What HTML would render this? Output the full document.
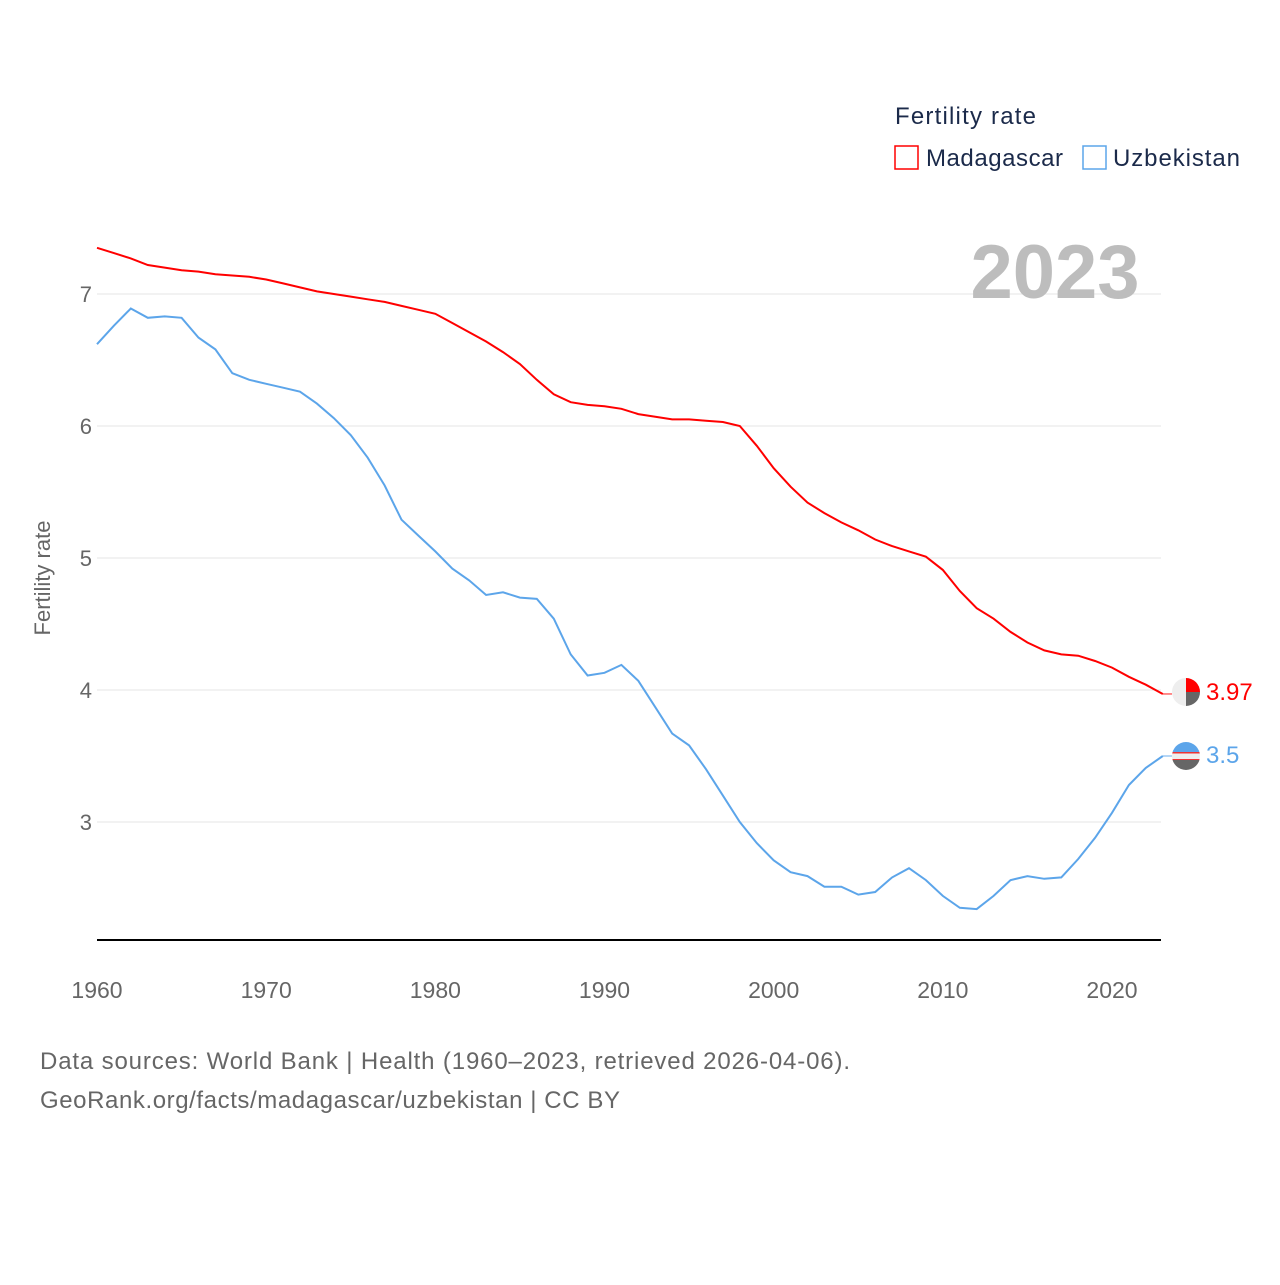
<!DOCTYPE html>
<html><head><meta charset="utf-8"><style>
body{margin:0;background:#fff;}
svg text{font-family:"Liberation Sans",sans-serif;}
</style></head><body>
<svg id="chart" width="1280" height="1280" xmlns="http://www.w3.org/2000/svg">
<rect width="1280" height="1280" fill="#fff"/>
<g id="grid"></g>
<text x="1055" y="298" font-size="76" font-weight="bold" fill="#bdbdbd" text-anchor="middle">2023</text>
<g id="series"></g>
<line x1="97" y1="940" x2="1161" y2="940" stroke="#000" stroke-width="2"/>
<g id="xticks"></g>
<text transform="translate(50,578) rotate(-90)" font-size="22" fill="#666" text-anchor="middle">Fertility rate</text>
<text x="895" y="124" font-size="24" fill="#1b2a4a" textLength="141">Fertility rate</text>
<g><rect x="895" y="146" width="23" height="23" fill="none" stroke="#f00" stroke-width="1.5"/><text x="926" y="166" font-size="24" fill="#1b2a4a" textLength="137">Madagascar</text></g>
<g><rect x="1083" y="146" width="23" height="23" fill="none" stroke="#5ca5ea" stroke-width="1.5"/><text x="1113" y="166" font-size="24" fill="#1b2a4a" textLength="127">Uzbekistan</text></g>
<g>
<clipPath id="c1"><circle cx="1186" cy="692" r="14"/></clipPath>
<g clip-path="url(#c1)"><rect x="1172" y="678" width="28" height="28" fill="#eee"/><rect x="1186" y="678" width="14" height="14" fill="#f00"/><rect x="1186" y="692" width="14" height="14" fill="#666"/></g></g>
<g>
<clipPath id="c2"><circle cx="1186" cy="756" r="14"/></clipPath>
<g clip-path="url(#c2)"><rect x="1172" y="742" width="28" height="11" fill="#5ca5ea"/><rect x="1172" y="753" width="28" height="7" fill="#eee"/><rect x="1172" y="752" width="28" height="1.5" fill="#e33"/><rect x="1172" y="759" width="28" height="1.5" fill="#e33"/><rect x="1172" y="760" width="28" height="12" fill="#666"/></g></g>
<text x="1206" y="700" font-size="24" fill="#f00">3.97</text>
<text x="1206" y="763" font-size="24" fill="#5ca5ea">3.5</text>
<text x="40" y="1069" font-size="24" fill="#666" textLength="810">Data sources: World Bank | Health (1960–2023, retrieved 2026-04-06).</text>
<text x="40" y="1108" font-size="24" fill="#666" textLength="580">GeoRank.org/facts/madagascar/uzbekistan | CC BY</text>
</svg>
<script>
const startYear = 1960;
const madagascar = [7.35,7.31,7.27,7.22,7.20,7.18,7.17,7.15,7.14,7.13,7.11,7.08,7.05,7.02,7.00,6.98,6.96,6.94,6.91,6.88,6.85,6.78,6.71,6.64,6.56,6.47,6.35,6.24,6.18,6.16,6.15,6.13,6.09,6.07,6.05,6.05,6.04,6.03,6.00,5.85,5.68,5.54,5.42,5.34,5.27,5.21,5.14,5.09,5.05,5.01,4.91,4.75,4.62,4.54,4.44,4.36,4.30,4.27,4.26,4.22,4.17,4.10,4.04,3.97];
const uzbekistan = [6.62,6.76,6.89,6.82,6.83,6.82,6.67,6.58,6.40,6.35,6.32,6.29,6.26,6.17,6.06,5.93,5.76,5.55,5.29,5.17,5.05,4.92,4.83,4.72,4.74,4.70,4.69,4.54,4.27,4.11,4.13,4.19,4.07,3.87,3.67,3.58,3.40,3.20,3.00,2.84,2.71,2.62,2.59,2.51,2.51,2.45,2.47,2.58,2.65,2.56,2.44,2.35,2.34,2.44,2.56,2.59,2.57,2.58,2.72,2.88,3.07,3.28,3.41,3.50];
const yTicks = [3,4,5,6,7];
const xTicks = [1960,1970,1980,1990,2000,2010,2020];
const NS="http://www.w3.org/2000/svg";
function xs(yr){return 97+(yr-1960)*(1015/60);}
function ys(v){return 294+(7-v)*132;}
function mk(tag,attrs,parent){const e=document.createElementNS(NS,tag);for(const k in attrs)e.setAttribute(k,attrs[k]);parent.appendChild(e);return e;}
const grid=document.getElementById('grid');
yTicks.forEach(t=>{
  const l=mk('line',{x1:97,x2:1161,y1:ys(t),y2:ys(t),stroke:'#e6e6e6','stroke-width':1},grid);
  
  
  const tx=mk('text',{x:92,y:ys(t)+8,'font-size':22,fill:'#666','text-anchor':'end'},grid);
  tx.textContent=t;
  
  
});
const xt=document.getElementById('xticks');
xTicks.forEach(t=>{
  const tx=mk('text',{x:xs(t),y:998,'font-size':23,fill:'#666','text-anchor':'middle'},xt);
  tx.textContent=t;
  
  
});
const sg=document.getElementById('series');
function line(arr,color,name){
  const d=arr.map((v,i)=>(i?'L':'M')+xs(startYear+i).toFixed(1)+','+ys(v).toFixed(1)).join('');
  const p=mk('path',{d:d,fill:'none',stroke:color,'stroke-width':2},sg);
  
  
  const last=arr[arr.length-1];
  mk('line',{x1:xs(startYear+arr.length-1),x2:1172,y1:ys(last),y2:ys(last),stroke:color,'stroke-width':1.5,opacity:0.6},sg);
}
line(madagascar,'#ff0000','madagascar-line');
line(uzbekistan,'#5ca5ea','uzbekistan-line');
</script>
</body></html>
